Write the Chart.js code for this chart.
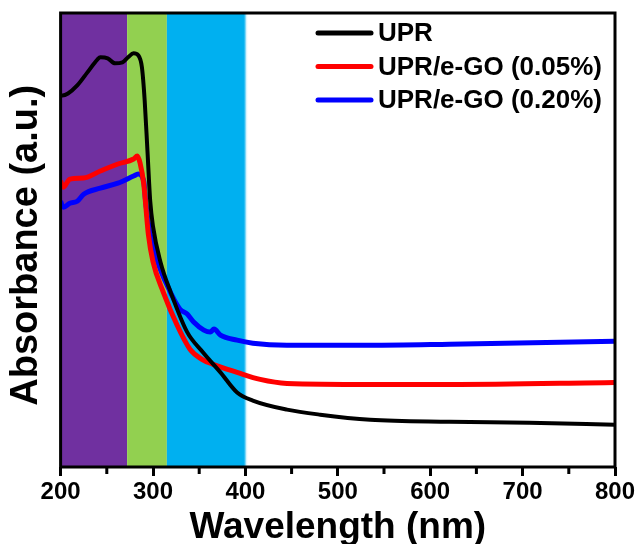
<!DOCTYPE html>
<html>
<head>
<meta charset="utf-8">
<script src="https://cdn.jsdelivr.net/npm/chart.js@4.4.0/dist/chart.umd.min.js"></script>
<style>
  html, body { margin: 0; padding: 0; background: #fff; }
  #wrap { width: 636px; height: 544px; }
</style>
</head>
<body>
<div id="wrap"><canvas id="myChart" width="636" height="544"></canvas></div>
<script>
// wavelength (nm) / absorbance (a.u.)
const upr_wl  = [200, 202, 208, 218, 229, 240, 243, 251, 259, 267, 273, 279, 284, 288, 291, 294, 297, 300, 308, 319, 337, 354, 373, 391, 408, 445, 481, 535, 621, 707, 800];
const upr_abs = [3.69, 3.69, 3.71, 3.79, 3.92, 4.05, 4.07, 4.06, 4.01, 4.02, 4.07, 4.11, 4.09, 3.97, 3.64, 3.14, 2.64, 2.39, 2.04, 1.74, 1.34, 1.14, 0.94, 0.74, 0.66, 0.57, 0.52, 0.47, 0.45, 0.44, 0.42];

const go05_wl  = [200, 203, 210, 225, 243, 262, 279, 283, 286, 290, 295, 300, 311, 326, 340, 353, 365, 391, 416, 445, 535, 621, 800];
const go05_abs = [2.84, 2.78, 2.86, 2.87, 2.94, 3.01, 3.06, 3.09, 3.02, 2.81, 2.31, 2.04, 1.74, 1.41, 1.17, 1.07, 1.02, 0.94, 0.87, 0.83, 0.82, 0.82, 0.84];

const go20_wl  = [200, 203, 210, 218, 225, 243, 262, 279, 284, 290, 292, 297, 305, 315, 329, 337, 344, 355, 362, 366, 373, 391, 408, 445, 535, 621, 800];
const go20_abs = [2.64, 2.58, 2.62, 2.64, 2.71, 2.77, 2.82, 2.89, 2.91, 2.84, 2.64, 2.31, 2.04, 1.81, 1.57, 1.52, 1.44, 1.36, 1.34, 1.37, 1.31, 1.26, 1.23, 1.21, 1.21, 1.22, 1.25];

const series_names  = ["UPR", "UPR/e-GO (0.05%)", "UPR/e-GO (0.20%)"];
const series_colors = ["#000000", "#ff0000", "#0000ff"];

// shaded spectral regions (nm)
const band_from   = [200, 272, 315];
const band_to     = [272, 315, 400];
const band_colors = ["#7030a0", "#92d050", "#00b0f0"];

const x_major = [200, 300, 400, 500, 600, 700, 800];
const x_minor = [250, 350, 450, 550, 650, 750];

function pairs(xs, ys) {
  let out = [];
  for (let i = 0; i < xs.length; i++) out.push({x: xs[i], y: ys[i]});
  return out;
}

const FONT = "'Liberation Sans', Arial, sans-serif";

const bandsPlugin = {
  id: 'bands',
  beforeDatasetsDraw(chart) {
    const {ctx, chartArea, scales: {x}} = chart;
    ctx.save();
    for (let i = 0; i < band_from.length; i++) {
      let x0 = x.getPixelForValue(band_from[i]);
      let x1 = x.getPixelForValue(band_to[i]);
      ctx.fillStyle = band_colors[i];
      ctx.fillRect(x0, chartArea.top, x1 - x0, chartArea.bottom - chartArea.top);
    }
    // soft right edge of the last band
    let xe = x.getPixelForValue(band_to[band_to.length - 1]);
    let g = ctx.createLinearGradient(xe - 2, 0, xe + 3, 0);
    g.addColorStop(0, band_colors[band_colors.length - 1]);
    g.addColorStop(1, 'rgba(255,255,255,0)');
    ctx.fillStyle = g;
    ctx.fillRect(xe - 2, chartArea.top, 5, chartArea.bottom - chartArea.top);
    ctx.restore();
  }
};

const framePlugin = {
  id: 'frame',
  afterDatasetsDraw(chart) {
    const {ctx, chartArea, scales: {x}} = chart;
    ctx.save();
    ctx.strokeStyle = '#000';
    ctx.lineWidth = 3;
    ctx.strokeRect(chartArea.left, chartArea.top, chartArea.right - chartArea.left, chartArea.bottom - chartArea.top);
    // minor ticks
    ctx.beginPath();
    for (let v of x_minor) {
      let px = x.getPixelForValue(v);
      ctx.moveTo(px, chartArea.bottom);
      ctx.lineTo(px, chartArea.bottom + 7);
    }
    ctx.stroke();

    // legend
    ctx.font = "bold 26px " + FONT;
    ctx.textBaseline = 'middle';
    ctx.textAlign = 'left';
    ctx.lineCap = 'round';
    ctx.lineWidth = 5;
    for (let i = 0; i < series_names.length; i++) {
      let yy = 33 + i * 33.5;
      ctx.strokeStyle = series_colors[i];
      ctx.beginPath();
      ctx.moveTo(318, yy);
      ctx.lineTo(371, yy);
      ctx.stroke();
      ctx.fillStyle = '#000';
      ctx.fillText(series_names[i], 378, yy + 1);
    }
    ctx.restore();
  }
};

const data = {
  datasets: [
    {label: series_names[0], data: pairs(upr_wl, upr_abs), borderColor: series_colors[0], borderWidth: 4},
    {label: series_names[1], data: pairs(go05_wl, go05_abs), borderColor: series_colors[1], borderWidth: 5},
    {label: series_names[2], data: pairs(go20_wl, go20_abs), borderColor: series_colors[2], borderWidth: 5}
  ]
};
data.datasets.forEach(d => {
  d.pointRadius = 0;
  d.fill = false;
  d.cubicInterpolationMode = 'monotone';
});

const config = {
  type: 'line',
  data: data,
  options: {
    responsive: false,
    animation: false,
    layout: {padding: {left: 0, right: 21, top: 13, bottom: -2}},
    plugins: {
      legend: {display: false},
      tooltip: {enabled: false}
    },
    scales: {
      x: {
        type: 'linear',
        min: 200,
        max: 800,
        ticks: {
          stepSize: 100,
          color: '#000',
          padding: 4,
          maxRotation: 0,
          font: {family: FONT, size: 24, weight: 'bold', lineHeight: 1}
        },
        afterBuildTicks(scale) {
          scale.ticks = x_major.map(v => ({value: v}));
        },
        afterFit(scale) {
          scale.paddingLeft = 0;
          scale.paddingRight = 0;
        },
        grid: {
          drawOnChartArea: false,
          drawTicks: true,
          tickLength: 9,
          tickWidth: 3,
          tickColor: '#000'
        },
        border: {display: false},
        title: {
          display: true,
          text: 'Wavelength (nm)',
          color: '#000',
          padding: {top: 1, bottom: 0},
          font: {family: FONT, size: 37, weight: 'bold', lineHeight: 1}
        }
      },
      y: {
        min: 0,
        max: 4.51,
        ticks: {display: false},
        grid: {display: false, drawTicks: false},
        border: {display: false},
        title: {
          display: true,
          text: 'Absorbance (a.u.) ',
          color: '#000',
          padding: {top: 4, bottom: 11},
          font: {family: FONT, size: 38, weight: 'bold', lineHeight: 1.2}
        }
      }
    }
  },
  plugins: [bandsPlugin, framePlugin]
};

const myChart = new Chart(document.getElementById('myChart'), config);
</script>
</body>
</html>
